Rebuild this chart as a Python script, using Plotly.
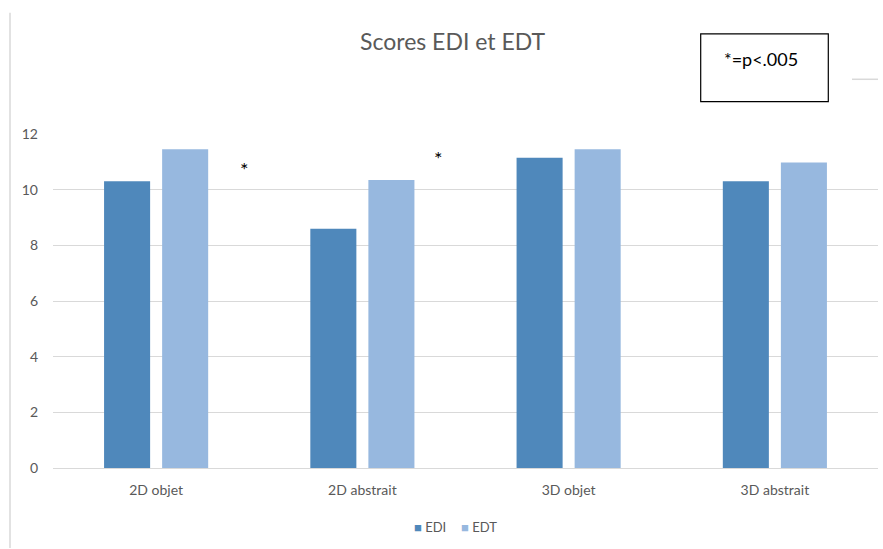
import plotly.graph_objects as go

# Data
categories = ["2D objet", "2D abstrait", "3D objet", "3D abstrait"]
edi_scores = [10.3, 8.6, 11.15, 10.3]
edt_scores = [11.45, 10.35, 11.45, 10.98]
series_names = ["EDI", "EDT"]
y_ticks = [0, 2, 4, 6, 8, 10, 12]

# significance markers placed between groups (category index, score)
sig_x = [0.43, 1.37]
sig_y = [10.75, 11.15]

EDI_COLOR = "#4F88BB"
EDT_COLOR = "#97B8DF"
GRID = "#D9D9D9"
TEXT = "#595959"
FONT = "Lato, Open Sans, sans-serif"

W, H = 883, 549
L, R, T, B = 53, 5, 133.5, 81
PW, PH = W - L - R, H - T - B


def px(x):
    return (x - L) / PW


def py(y):
    return (H - B - y) / PH


fig = go.Figure()
fig.add_trace(go.Bar(x=categories, y=edi_scores, name=series_names[0],
                     marker=dict(color=EDI_COLOR, line=dict(width=0)),
                     showlegend=False))
fig.add_trace(go.Bar(x=categories, y=edt_scores, name=series_names[1],
                     marker=dict(color=EDT_COLOR, line=dict(width=0)),
                     showlegend=False))

annotations = [
    dict(text="Scores EDI et EDT", x=px(452), y=py(40), xref="paper", yref="paper",
         showarrow=False, font=dict(family=FONT, size=23, color=TEXT),
         xanchor="center", yanchor="middle"),
    dict(text="*=p<.005", x=px(761), y=py(58), xref="paper", yref="paper",
         showarrow=False, font=dict(family=FONT, size=18, color="black"),
         xanchor="center", yanchor="middle"),
    dict(text=f'<span style="color:{EDI_COLOR}">■</span> {series_names[0]}',
         x=px(412), y=py(527), xref="paper", yref="paper", showarrow=False,
         font=dict(family=FONT, size=13, color=TEXT), xanchor="left", yanchor="middle"),
    dict(text=f'<span style="color:{EDT_COLOR}">■</span> {series_names[1]}',
         x=px(459), y=py(527), xref="paper", yref="paper", showarrow=False,
         font=dict(family=FONT, size=13, color=TEXT), xanchor="left", yanchor="middle"),
]
for sx, sy in zip(sig_x, sig_y):
    annotations.append(dict(text="*", x=sx, y=sy, xref="x", yref="y", showarrow=False,
                            font=dict(family=FONT, size=20, color="black"),
                            xanchor="center", yanchor="middle"))

shapes = [
    # p-value note box
    dict(type="rect", xref="paper", yref="paper", x0=px(700.7), x1=px(828.3),
         y0=py(101), y1=py(33.3), line=dict(color="black", width=1.2)),
    # chart-area frame remnants
    dict(type="line", xref="paper", yref="paper", x0=px(10), x1=px(10),
         y0=py(12), y1=py(548), line=dict(color=GRID, width=1.5)),
    dict(type="line", xref="paper", yref="paper", x0=px(852), x1=px(878),
         y0=py(78.7), y1=py(78.7), line=dict(color=GRID, width=1.5)),
]

fig.update_layout(
    width=W, height=H,
    margin=dict(l=L, r=R, t=T, b=B, pad=0),
    paper_bgcolor="white", plot_bgcolor="white",
    barmode="group", bargap=0.437, bargroupgap=0.207,
    font=dict(family=FONT, size=14, color=TEXT),
    annotations=annotations, shapes=shapes,
    showlegend=False,
)
fig.update_xaxes(showgrid=False, showline=True, linecolor=GRID, linewidth=1,
                 ticks="", tickfont=dict(family=FONT, size=14, color=TEXT),
                 ticklabelstandoff=9)
fig.update_yaxes(range=[0, 12], tickvals=y_ticks, showgrid=True, gridcolor=GRID,
                 gridwidth=1, zeroline=False, showline=False, ticks="",
                 tickfont=dict(family=FONT, size=14, color=TEXT),
                 ticklabelstandoff=14)

fig.write_html("out.html")
